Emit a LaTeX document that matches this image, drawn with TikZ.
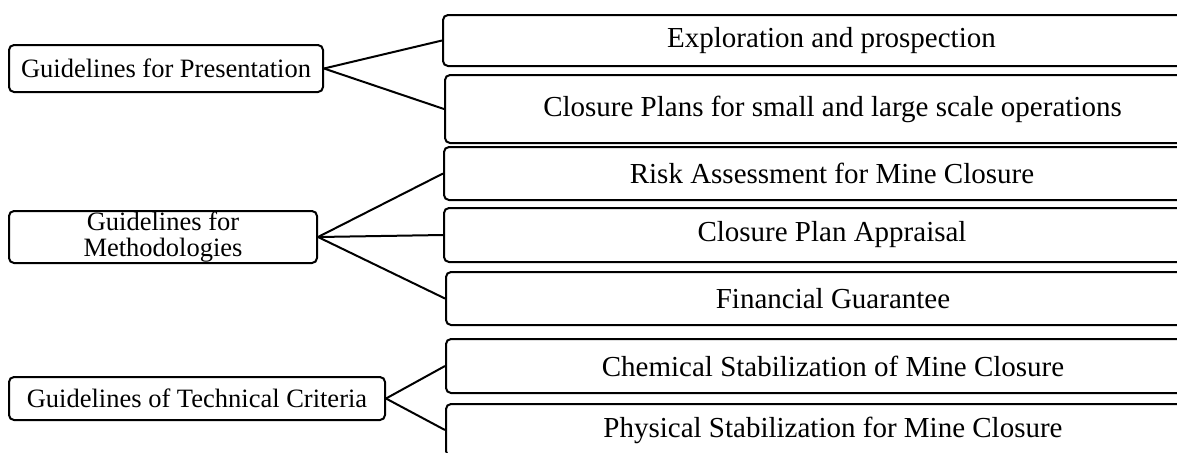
\documentclass[tikz,border=0pt]{standalone}
\usepackage{fontspec}
\setmainfont{Liberation Serif}
\begin{document}
\begin{tikzpicture}[x=0.5pt,y=-0.5pt,
  leftbox/.style={draw, line width=1pt, rounded corners=2.5pt, inner sep=0pt, align=center,
    font=\fontsize{13.25}{12.6}\selectfont},
  rightbox/.style={draw, line width=1pt, rounded corners=2.5pt, inner sep=0pt, align=center,
    font=\fontsize{14.5}{16}\selectfont},
  link/.style={line width=1pt}]
\useasboundingbox (0,0) rectangle (1177,452);
\clip (0,0) rectangle (1177,452);
% left boxes
\node[leftbox, minimum width=157pt, minimum height=23.5pt] (g1) at (166,68.5) {Guidelines for Presentation};
\node[leftbox, minimum width=154pt, minimum height=26pt] (g2) at (163,237) {Guidelines for\\Methodologies};
\node[leftbox, minimum width=188pt, minimum height=21.5pt] (g3) at (197,398.5) {Guidelines of Technical Criteria};
% right boxes
\node[rightbox, minimum width=388.5pt, minimum height=25.5pt] (r1) at (831.5,40.5) {Exploration and prospection};
\node[rightbox, minimum width=387.5pt, minimum height=34pt] (r2) at (832.5,109) {Closure Plans for small and large scale operations};
\node[rightbox, minimum width=388pt, minimum height=26.5pt] (r3) at (832,173.5) {Risk Assessment for Mine Closure};
\node[rightbox, minimum width=388pt, minimum height=27pt] (r4) at (832,235) {Closure Plan Appraisal};
\node[rightbox, minimum width=387pt, minimum height=26.5pt] (r5) at (833,298.5) {Financial Guarantee};
\node[rightbox, minimum width=387pt, minimum height=27pt] (r6) at (833,366) {Chemical Stabilization of Mine Closure};
\node[rightbox, minimum width=387pt, minimum height=26pt] (r7) at (833,430) {Physical Stabilization for Mine Closure};
% connectors
\draw[link] (g1.east) -- (r1.west);
\draw[link] (g1.east) -- (r2.west);
\draw[link] (g2.east) -- (r3.west);
\draw[link] (g2.east) -- (r4.west);
\draw[link] (g2.east) -- (r5.west);
\draw[link] (g3.east) -- (r6.west);
\draw[link] (g3.east) -- (r7.west);
\end{tikzpicture}
\end{document}
